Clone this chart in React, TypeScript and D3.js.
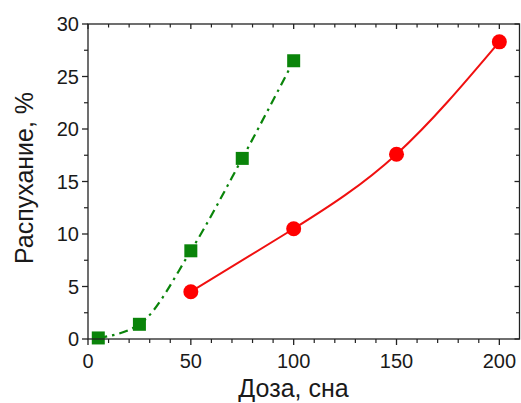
import React from "react";
import * as d3 from "d3";

const greenDose = [5, 25, 50, 75, 100];
const greenSwelling = [0.1, 1.4, 8.4, 17.2, 26.5];
const redDose = [50, 100, 150, 200];
const redSwelling = [4.5, 10.5, 17.6, 28.3];
const xTicks = [0, 50, 100, 150, 200];
const yTicks = [0, 5, 10, 15, 20, 25, 30];
const xTitle = "Доза, сна";
const yTitle = "Распухание, %";

const W = 521;
const H = 403;
const L = 88;
const R = 519.5;
const T = 24;
const B = 339;

export default function App() {
  const x = d3.scaleLinear().domain([0, 209.8]).range([L, R]);
  const y = d3.scaleLinear().domain([0, 30]).range([B, T]);
  const xMinor = d3.range(0, 210, 10).filter((v) => v % 50 !== 0);
  const yMinor = d3.range(0, 30, 2.5).filter((v) => v % 5 !== 0);
  const green = greenDose.map((d, i) => [d, greenSwelling[i]] as [number, number]);
  const red = redDose.map((d, i) => [d, redSwelling[i]] as [number, number]);
  const greenLine = d3
    .line<[number, number]>()
    .x((d) => x(d[0]))
    .y((d) => y(d[1]))
    .curve(d3.curveMonotoneX);
  const redLine = d3
    .line<[number, number]>()
    .x((d) => x(d[0]))
    .y((d) => y(d[1]))
    .curve(d3.curveNatural);
  const font = "'Liberation Sans', Arial, sans-serif";
  const axisColor = "#222";
  return (
    <svg
      width={W}
      height={H}
      style={{ position: "absolute", left: 0, top: 0, background: "#fff" }}
      fontFamily={font}
    >
      <path
        d={greenLine(green) || ""}
        fill="none"
        stroke="#0a840a"
        strokeWidth={2.2}
        strokeDasharray="9,5,2.5,5"
      />
      <path d={redLine(red) || ""} fill="none" stroke="#f01010" strokeWidth={2} />
      {green.map((d, i) => (
        <rect
          key={"g" + i}
          x={x(d[0]) - 6.5}
          y={y(d[1]) - 6.5}
          width={13}
          height={13}
          fill="#0a840a"
        />
      ))}
      {red.map((d, i) => (
        <circle key={"r" + i} cx={x(d[0])} cy={y(d[1])} r={7.5} fill="#ff0000" />
      ))}
      <rect x={L} y={T} width={R - L} height={B - T} fill="none" stroke={axisColor} strokeWidth={1.3} />
      {xTicks.map((v) => (
        <line key={"xb" + v} x1={x(v)} x2={x(v)} y1={B} y2={B + 6} stroke={axisColor} strokeWidth={1.3} />
      ))}
      {xMinor.map((v) => (
        <line key={"xbm" + v} x1={x(v)} x2={x(v)} y1={B} y2={B + 4} stroke={axisColor} strokeWidth={1.2} />
      ))}
      {xTicks.map((v) => (
        <line key={"xt" + v} x1={x(v)} x2={x(v)} y1={T} y2={T + 5} stroke={axisColor} strokeWidth={1.3} />
      ))}
      {xMinor.map((v) => (
        <line key={"xtm" + v} x1={x(v)} x2={x(v)} y1={T} y2={T + 3.5} stroke={axisColor} strokeWidth={1.2} />
      ))}
      {yTicks.map((v) => (
        <line key={"yl" + v} x1={L - 6} x2={L} y1={y(v)} y2={y(v)} stroke={axisColor} strokeWidth={1.3} />
      ))}
      {yMinor.map((v) => (
        <line key={"ylm" + v} x1={L - 4} x2={L} y1={y(v)} y2={y(v)} stroke={axisColor} strokeWidth={1.2} />
      ))}
      {yTicks.map((v) => (
        <line key={"yr" + v} x1={R - 5} x2={R} y1={y(v)} y2={y(v)} stroke={axisColor} strokeWidth={1.3} />
      ))}
      {yMinor.map((v) => (
        <line key={"yrm" + v} x1={R - 3.5} x2={R} y1={y(v)} y2={y(v)} stroke={axisColor} strokeWidth={1.2} />
      ))}
      {xTicks.map((v) => (
        <text key={"xl" + v} x={x(v)} y={368} textAnchor="middle" fontSize={20} fill="#1a1a1a">
          {v}
        </text>
      ))}
      {yTicks.map((v) => (
        <text key={"ylb" + v} x={79} y={y(v) + 7} textAnchor="end" fontSize={20} fill="#1a1a1a">
          {v}
        </text>
      ))}
      <text x={(L + 499) / 2} y={397} textAnchor="middle" fontSize={25} fill="#1a1a1a">
        {xTitle}
      </text>
      <text
        transform={`translate(33, ${178}) rotate(-90)`}
        textAnchor="middle"
        fontSize={25}
        fill="#1a1a1a"
      >
        {yTitle}
      </text>
    </svg>
  );
}
